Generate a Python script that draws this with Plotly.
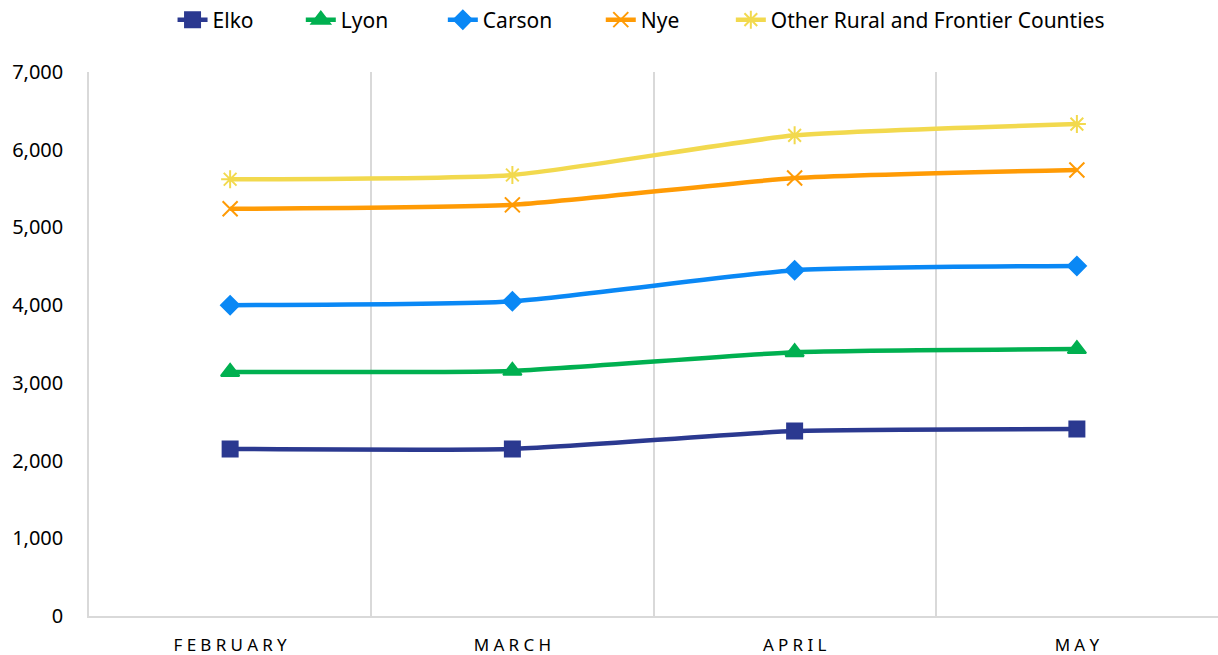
import plotly.graph_objects as go

# ----------------------------------------------------------------------------------------------------------------------
# Data
# ----------------------------------------------------------------------------------------------------------------------
months = ["FEBRUARY", "MARCH", "APRIL", "MAY"]
elko = [2150, 2150, 2380, 2405]
lyon = [3140, 3155, 3395, 3435]
carson = [4000, 4050, 4450, 4505]
nye = [5240, 5290, 5635, 5740]
other_rural = [5620, 5675, 6185, 6330]

y_ticks = [0, 1000, 2000, 3000, 4000, 5000, 6000, 7000]

# Spaced-out month labels (letter spacing like the original)
month_labels = ["\u2005".join(m) for m in months]

series = [
    ("Elko", elko, "#2B3990", "square", 15),
    ("Lyon", lyon, "#00B050", "triangle-up", 16),
    ("Carson", carson, "#0A88F5", "diamond", 14),
    ("Nye", nye, "#FF9B05", "x-thin-open", 15),
    ("Other Rural and Frontier Counties", other_rural, "#F2D94E", "asterisk-open", 15),
]

# Left edge of each legend entry (paper fraction), one legend per series
legend_x = [0.0740, 0.1876, 0.3134, 0.4533, 0.5685]

# ----------------------------------------------------------------------------------------------------------------------
# Figure
# ----------------------------------------------------------------------------------------------------------------------
fig = go.Figure()

legends = {}
for i, (name, values, color, symbol, size) in enumerate(series):
    legend_id = "legend" if i == 0 else f"legend{i + 1}"
    fig.add_trace(go.Scatter(x=month_labels, y=values, name=name, legend=legend_id,
                             mode="lines+markers",
                             line=dict(color=color, width=4.5, shape="spline", smoothing=0.5),
                             marker=dict(symbol=symbol, size=size, color=color,
                                         line=dict(color=color, width=2))))
    legends[legend_id] = dict(orientation="h", xanchor="left", x=legend_x[i],
                              yanchor="middle", y=1.0956, font=dict(size=21),
                              bgcolor="rgba(0,0,0,0)")

fig.update_layout(
    width=1218, height=655,
    plot_bgcolor="white", paper_bgcolor="white",
    font=dict(family="Noto Sans, Open Sans, sans-serif", color="#000000"),
    margin=dict(l=89, r=0, t=72, b=39, autoexpand=False),
    showlegend=True,
    **legends,
)

fig.update_xaxes(type="category", range=[-0.5, 3.5], tickson="boundaries",
                 showgrid=True, gridcolor="#D9D9D9", gridwidth=1.5,
                 showline=True, linecolor="#D9D9D9", linewidth=1.5,
                 ticks="", tickfont=dict(size=17), ticklabelstandoff=13)
fig.update_yaxes(range=[0, 7000], tickvals=y_ticks, tickformat=",d",
                 showgrid=False, zeroline=False,
                 showline=True, linecolor="#D9D9D9", linewidth=1.5,
                 ticks="", tickfont=dict(size=20), ticklabelstandoff=20)

# drop the default page margin so the figure sits at the window's top-left corner
fig.write_html("out.html", config={"displayModeBar": False},
               post_script="document.body.style.margin = '0';")
